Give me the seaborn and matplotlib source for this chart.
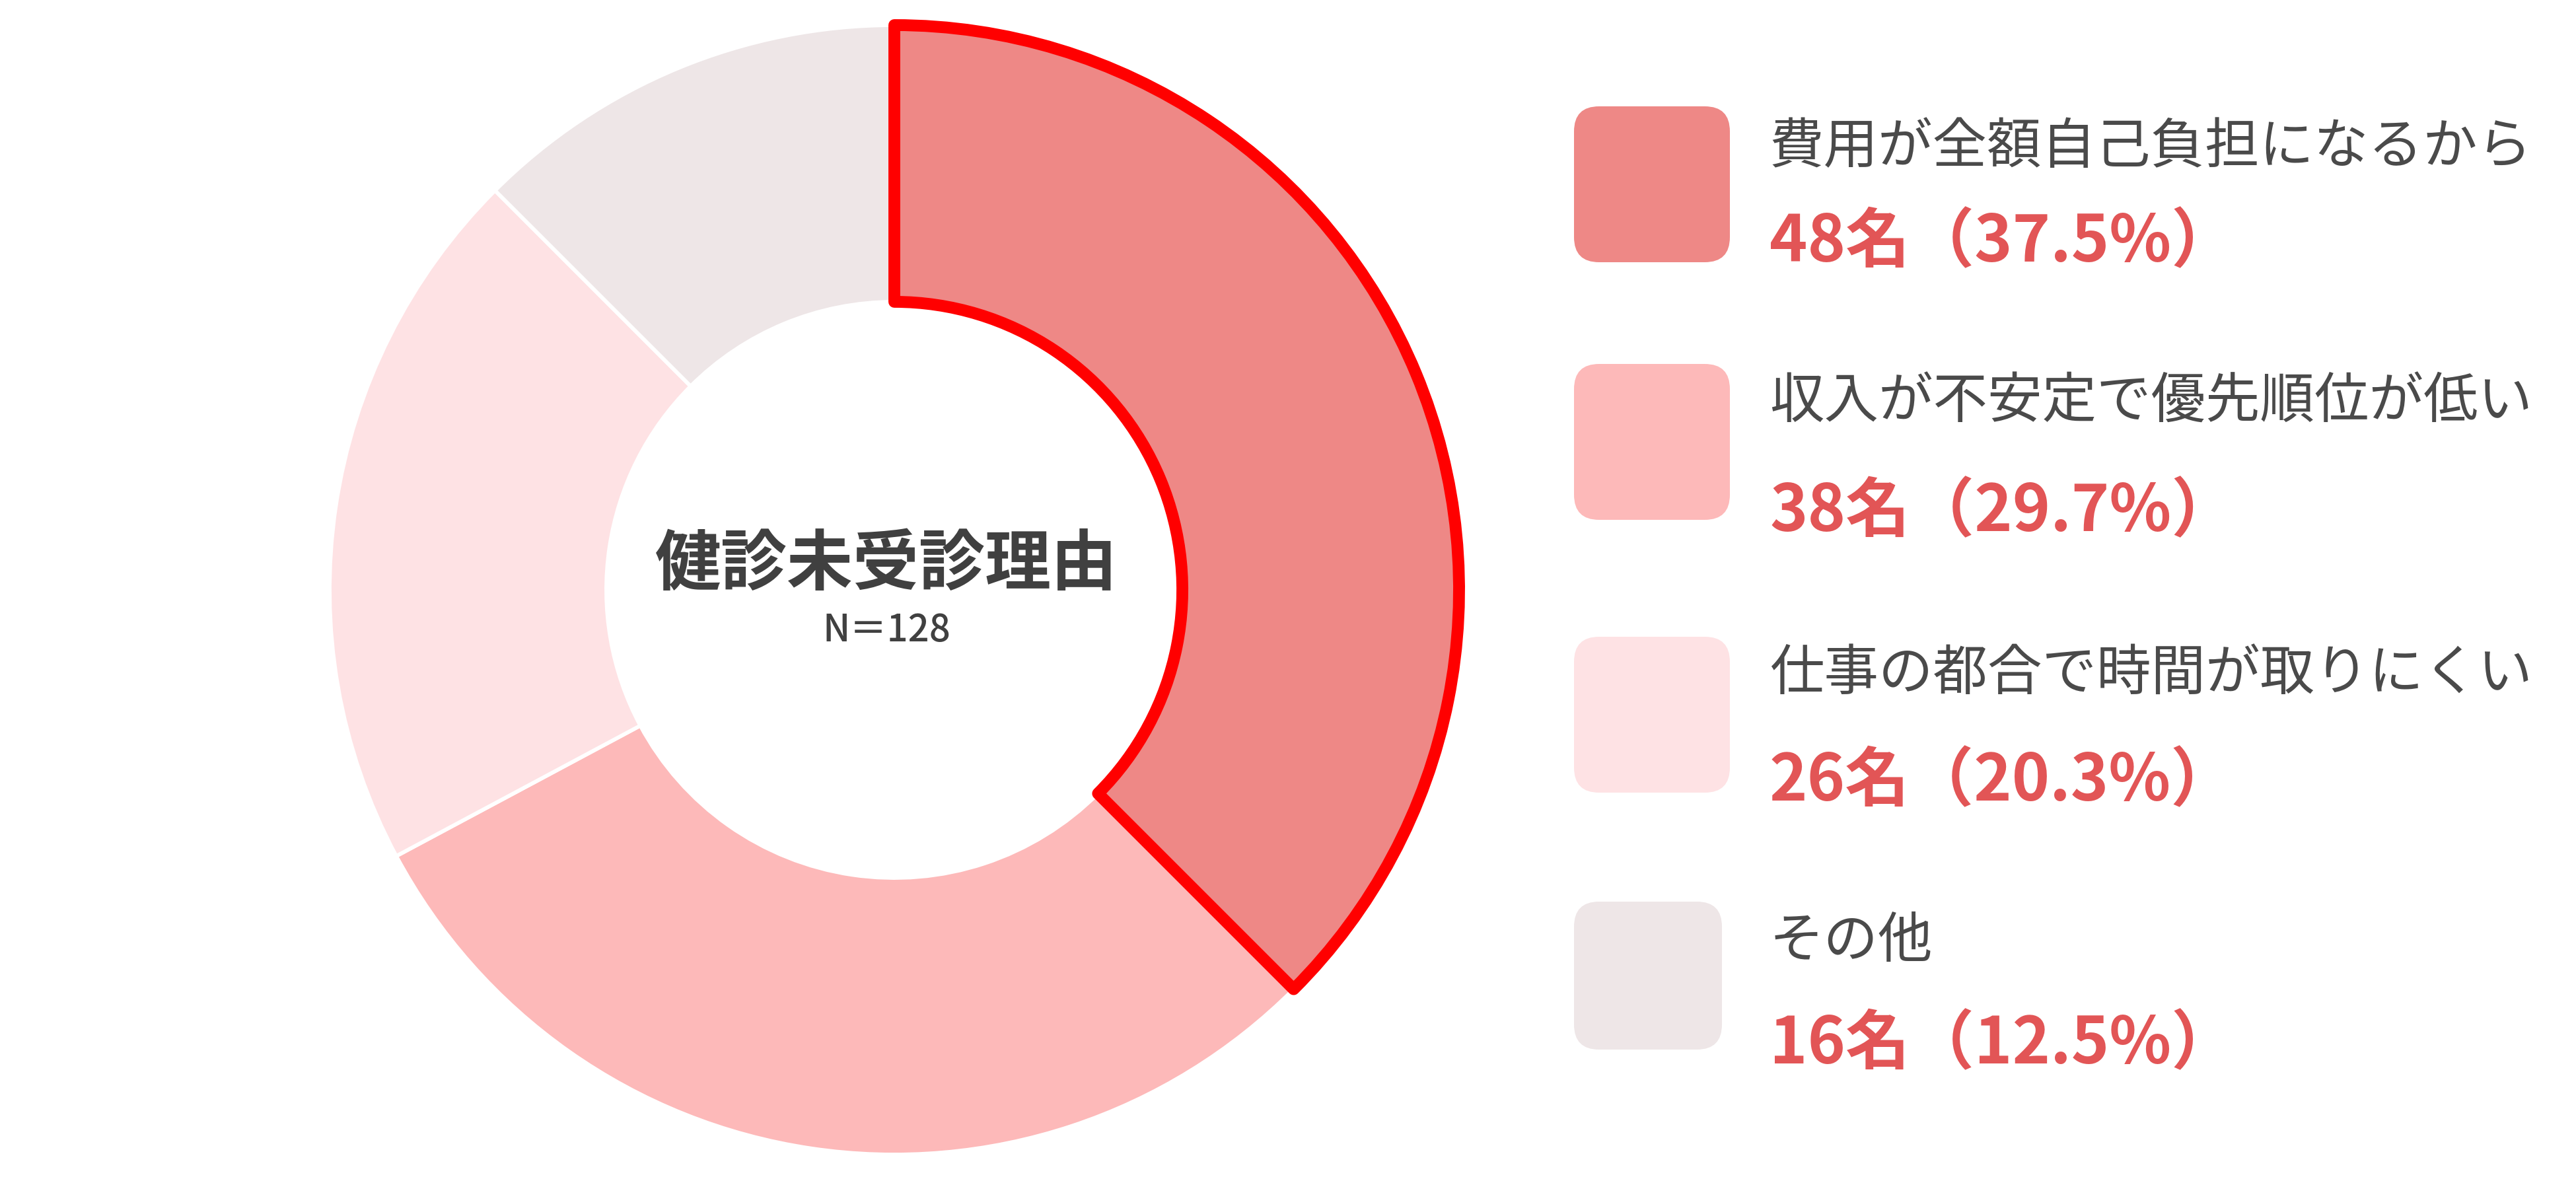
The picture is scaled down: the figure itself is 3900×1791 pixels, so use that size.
import numpy as np
import matplotlib
matplotlib.use("Agg")
import matplotlib.pyplot as plt
from matplotlib.patches import FancyBboxPatch
import seaborn as sns

# Data
reasons = ["費用が全額自己負担になるから", "収入が不安定で優先順位が低い",
           "仕事の都合で時間が取りにくい", "その他"]
counts = [48, 38, 26, 16]
colors = ["#EE8886", "#FDB9B9", "#FEE2E4", "#EEE6E7"]
center_title = "健診未受診理由"
n_total = sum(counts)

sns.set_theme(style="white")
plt.rcParams['font.family'] = ['Noto Sans CJK JP', 'DejaVu Sans']

W, H, DPI = 3900, 1791, 300
fig = plt.figure(figsize=(W / DPI, H / DPI), dpi=DPI, facecolor="white")

# --- donut ---
cx, cy, R = 1354, 893, 855          # pixel layout of the donut
half = 1.1 * R
ax = fig.add_axes([(cx - half) / W, (H - cy - half) / H, 2 * half / W, 2 * half / H])
wedges, _ = ax.pie(counts, colors=colors, startangle=90, counterclock=False,
                   radius=1.0, wedgeprops=dict(width=0.49, edgecolor="white", linewidth=1.4))
ax.set_xlim(-1.1, 1.1)
ax.set_ylim(-1.1, 1.1)
ax.set_aspect("equal")
ax.axis("off")

# highlight the largest slice
wedges[0].set_edgecolor("#FF0000")
wedges[0].set_linewidth(4.3)
wedges[0].set_joinstyle("round")
wedges[0].set_zorder(5)

ax.text(-0.014, 0.044, center_title, ha="center", va="center",
        fontsize=24, fontweight="bold", color="#404040")
ax.text(-0.014, -0.073, f"N＝{n_total}", ha="center", va="center",
        fontsize=13.5, fontweight="medium", color="#404040")

# --- legend ---
lax = fig.add_axes([0, 0, 1, 1])
lax.set_xlim(0, W)
lax.set_ylim(H, 0)
lax.axis("off")

sw_x = 2383
sw_cy = [279, 669, 1082, 1477]
sw_size = [236, 236, 236, 224]
label_y = [224, 609, 1020, 1425]
value_y = [368, 776, 1184, 1582]
text_x = 2679

for i, (reason, cnt) in enumerate(zip(reasons, counts)):
    s = sw_size[i]
    box = FancyBboxPatch((sw_x, sw_cy[i] - s / 2), s, s,
                         boxstyle="round,pad=0,rounding_size=38",
                         facecolor=colors[i], edgecolor="none")
    lax.add_patch(box)
    lax.text(text_x, label_y[i], reason, ha="left", va="center",
             fontsize=19.8, color="#4a4a4a")
    pct = cnt / n_total * 100
    lax.text(text_x, value_y[i], f"{cnt}名（{pct:.1f}%）", ha="left", va="center",
             fontsize=23.4, fontweight="bold", color="#E25556")

fig.savefig("out.png", dpi=DPI, facecolor="white")
